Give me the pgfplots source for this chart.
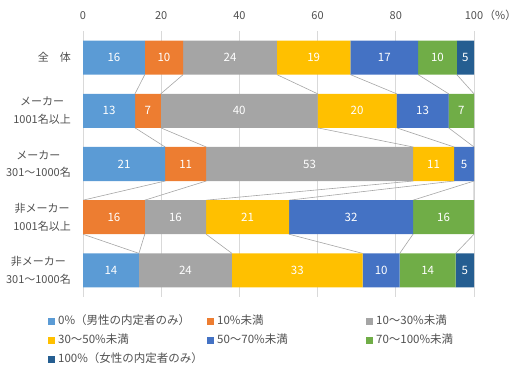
\documentclass[border=0pt]{standalone}
\usepackage{fontspec}
\setmainfont{Noto Sans CJK JP}
\usepackage{pgfplots}
\pgfplotsset{compat=1.18}
\usepackage{pgfplotstable}
\definecolor{c1}{HTML}{5B9BD5}
\definecolor{c2}{HTML}{ED7D31}
\definecolor{c3}{HTML}{A5A5A5}
\definecolor{c4}{HTML}{FFC000}
\definecolor{c5}{HTML}{4472C4}
\definecolor{c6}{HTML}{70AD47}
\definecolor{c7}{HTML}{255E91}
\definecolor{cgrid}{HTML}{D9D9D9}
\definecolor{ctext}{HTML}{505050}
\definecolor{cline}{HTML}{A6A6A6}

\pgfplotstableread{
row s1 s2 s3 s4 s5 s6 s7
0 15.8 9.8 24.0 18.8 17.3 9.9 4.4
1 13.3 6.6 40.1 20.2 13.3 6.5 0
2 21.0 10.5 52.9 10.5 5.1 0 0
3 0 15.8 15.7 21.2 31.7 15.6 0
4 14.3 0 23.8 33.4 9.5 14.3 4.7
}\segs

\pgfplotstableread{
x y l
7.9 0 16
20.7 0 10
37.6 0 24
59.0 0 19
77.05 0 17
90.65 0 10
97.8 0 5
6.65 1 13
16.6 1 7
39.95 1 40
70.1 1 20
86.85 1 13
96.75 1 7
10.5 2 21
26.25 2 11
57.95 2 53
89.65 2 11
97.45 2 5
7.9 3 16
23.65 3 16
42.1 3 21
68.55 3 32
92.2 3 16
7.15 4 14
26.2 4 24
54.8 4 33
76.25 4 10
88.15 4 14
97.65 4 5
}\labs

\begin{document}
\begin{tikzpicture}
\useasboundingbox (0,0) rectangle (517bp,371bp);
\pgfplotsset{base/.style={at={(83bp,74bp)}, anchor=south west, scale only axis,
  width=391bp, height=266bp, xmin=0, xmax=100, ymin=-0.5, ymax=4.5, y dir=reverse}}
% background: grid, tick labels, series lines
\begin{axis}[base,
  axis line style={draw=none},
  xtick={0,20,...,100}, xticklabel pos=upper,
  xticklabels={0,20,40,60,80,{100\rlap{\hspace{1bp}（\%）}}},
  major tick length=0pt,
  xmajorgrids, grid style={draw=cgrid, line width=0.75bp},
  /pgf/number format/assume math mode=true,
  xticklabel style={font=\fontsize{11bp}{13bp}\selectfont, text=ctext, anchor=base, yshift=12bp},
  ytick={0,1,2,3,4},
  yticklabels={{全　体},{メーカー\\1001名以上},{メーカー\\301～1000名},{非メーカー\\1001名以上},{非メーカー\\301～1000名}},
  yticklabel style={font=\fontsize{11bp}{17.5bp}\selectfont, text=ctext, align=center, inner sep=0pt, xshift=-12bp},
]
\addplot[cline, line width=0.6bp, mark=none] coordinates {(15.8,0.32)(13.3,0.68)(13.3,1.32)(21.0,1.68)(21.0,2.32)(0,2.68)(0,3.32)(14.3,3.68)};
\addplot[cline, line width=0.6bp, mark=none] coordinates {(25.6,0.32)(19.9,0.68)(19.9,1.32)(31.5,1.68)(31.5,2.32)(15.8,2.68)(15.8,3.32)(14.3,3.68)};
\addplot[cline, line width=0.6bp, mark=none] coordinates {(49.6,0.32)(60.0,0.68)(60.0,1.32)(84.4,1.68)(84.4,2.32)(31.5,2.68)(31.5,3.32)(38.1,3.68)};
\addplot[cline, line width=0.6bp, mark=none] coordinates {(68.4,0.32)(80.2,0.68)(80.2,1.32)(94.9,1.68)(94.9,2.32)(52.7,2.68)(52.7,3.32)(71.5,3.68)};
\addplot[cline, line width=0.6bp, mark=none] coordinates {(85.7,0.32)(93.5,0.68)(93.5,1.32)(100,1.68)(100,2.32)(84.4,2.68)(84.4,3.32)(81.0,3.68)};
\addplot[cline, line width=0.6bp, mark=none] coordinates {(95.6,0.32)(100,0.68)(100,1.32)(100,1.68)(100,2.32)(100,2.68)(100,3.32)(95.3,3.68)};
\end{axis}
% bars
\begin{axis}[base, hide axis,
  xbar stacked, bar width=0.64,
  legend columns=3,
  legend image code/.code={\fill[#1] (0bp,-3.5bp) rectangle (7bp,3.5bp);},
  legend style={at={(axis description cs:-0.0895,-0.07)}, anchor=north west, draw=none, fill=none,
    inner sep=0pt, font=\fontsize{11.5bp}{13bp}\selectfont, text=ctext,
    nodes={inner sep=0pt, text height=8.5bp, text depth=2.5bp, anchor=west},
    row sep=8bp,
    /tikz/every odd column/.append style={column sep=3bp}},
]
\addplot[fill=c1, draw=none] table[x=s1, y=row] {\segs}; \addlegendentry{\makebox[149bp][l]{0\%（男性の内定者のみ）}}
\addplot[fill=c2, draw=none] table[x=s2, y=row] {\segs}; \addlegendentry{\makebox[149bp][l]{10\%未満}}
\addplot[fill=c3, draw=none] table[x=s3, y=row] {\segs}; \addlegendentry{\makebox[149bp][l]{10～30\%未満}}
\addplot[fill=c4, draw=none] table[x=s4, y=row] {\segs}; \addlegendentry{\makebox[149bp][l]{30～50\%未満}}
\addplot[fill=c5, draw=none] table[x=s5, y=row] {\segs}; \addlegendentry{\makebox[149bp][l]{50～70\%未満}}
\addplot[fill=c6, draw=none] table[x=s6, y=row] {\segs}; \addlegendentry{\makebox[149bp][l]{70～100\%未満}}
\addplot[fill=c7, draw=none] table[x=s7, y=row] {\segs}; \addlegendentry{\makebox[149bp][l]{100\%（女性の内定者のみ）}}
\end{axis}
% value labels
\begin{axis}[base, hide axis]
\addplot[draw=none, mark=none, nodes near coords, point meta=explicit symbolic,
  every node near coord/.style={anchor=center, text=white, font=\fontsize{11.5bp}{13bp}\selectfont, inner sep=0pt}]
  table[x=x, y=y, meta=l] {\labs};
\end{axis}
\end{tikzpicture}
\end{document}
